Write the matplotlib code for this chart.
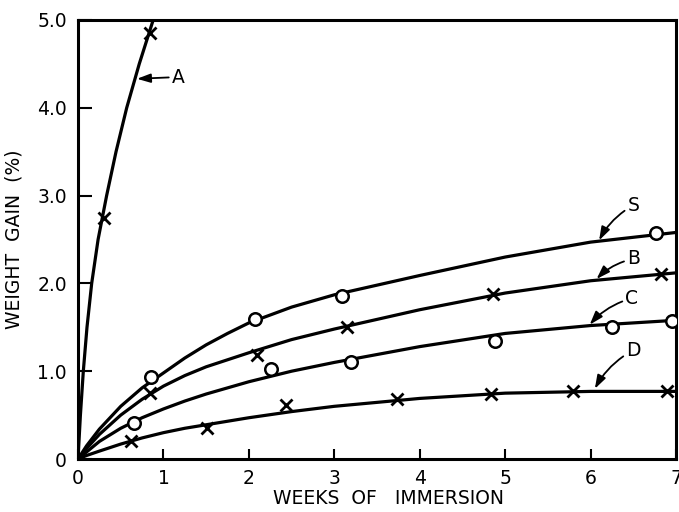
import matplotlib
matplotlib.use('Agg')
import matplotlib.pyplot as plt

# measured points (weeks, % weight gain)
a_x = [0.30, 0.84]
a_y = [2.75, 4.85]
s_x = [0.86, 2.07, 3.09, 6.76]
s_y = [0.93, 1.59, 1.86, 2.57]
b_x = [0.84, 2.09, 3.15, 4.86, 6.82]
b_y = [0.75, 1.18, 1.50, 1.88, 2.11]
c_x = [0.65, 2.26, 3.19, 4.88, 6.25, 6.95]
c_y = [0.41, 1.02, 1.11, 1.34, 1.50, 1.57]
d_x = [0.62, 1.51, 2.44, 3.73, 4.84, 5.80, 6.89]
d_y = [0.20, 0.35, 0.61, 0.68, 0.74, 0.77, 0.77]

# fitted curves
a_cy = [0, 0.5, 1.0, 1.5, 2.0, 2.5, 3.0, 3.5, 4.0, 4.5, 5.0]
a_cx = [0, 0.028, 0.062, 0.105, 0.16, 0.235, 0.335, 0.445, 0.57, 0.717, 0.88]
curve_x = [0, 0.1, 0.25, 0.5, 0.75, 1, 1.25, 1.5, 1.75, 2, 2.5, 3, 4, 5, 6, 7]
s_cy = [0, 0.15, 0.34, 0.60, 0.81, 0.98, 1.15, 1.30, 1.43, 1.55, 1.73, 1.87, 2.09, 2.30, 2.47, 2.58]
b_cy = [0, 0.12, 0.28, 0.50, 0.68, 0.83, 0.95, 1.05, 1.13, 1.21, 1.36, 1.48, 1.70, 1.89, 2.03, 2.12]
c_cy = [0, 0.08, 0.20, 0.35, 0.47, 0.57, 0.66, 0.74, 0.81, 0.88, 1.00, 1.10, 1.28, 1.43, 1.52, 1.58]
d_cy = [0, 0.04, 0.09, 0.17, 0.24, 0.30, 0.35, 0.39, 0.43, 0.47, 0.54, 0.60, 0.69, 0.75, 0.77, 0.77]

x_ticks = [0, 1, 2, 3, 4, 5, 6, 7]
y_ticks = [0, 1, 2, 3, 4, 5]
y_labels = ['0', '1.0', '2.0', '3.0', '4.0', '5.0']

plt.rcParams['font.family'] = ['DejaVu Sans']
fig = plt.figure(figsize=(6.79, 5.12), dpi=100)
ax = fig.add_axes([0.1149, 0.1035, 0.8807, 0.8575])

lw = 2.3
ax.plot(a_cx, a_cy, color='black', lw=lw, solid_capstyle='round', solid_joinstyle='round')
for ys in (s_cy, b_cy, c_cy, d_cy):
    ax.plot(curve_x, ys, color='black', lw=lw, solid_capstyle='round', solid_joinstyle='round')

cross = dict(marker='x', color='black', ms=8, mew=2, ls='none', zorder=5)
circ = dict(marker='o', mfc='white', mec='black', ms=9, mew=1.8, ls='none', zorder=5)
ax.plot(a_x, a_y, **cross)
ax.plot(s_x, s_y, **circ)
ax.plot(b_x, b_y, **cross)
ax.plot(c_x, c_y, **circ)
ax.plot(d_x, d_y, **cross)

ax.set_xlim(0, 7)
ax.set_ylim(0, 5)
ax.set_xticks(x_ticks)
ax.set_xticklabels([str(t) for t in x_ticks])
ax.set_yticks(y_ticks)
ax.set_yticklabels(y_labels)
ax.tick_params(axis='y', direction='in', length=10, width=1.5, pad=8, labelsize=13.5)
ax.tick_params(axis='x', direction='in', length=7, width=1.5, pad=7, labelsize=13.5)
for sp in ax.spines.values():
    sp.set_linewidth(2.2)
ax.set_xlabel('WEEKS  OF   IMMERSION', fontsize=13.5)
ax.xaxis.set_label_coords(0.52, -0.068)
ax.set_ylabel('WEIGHT  GAIN  (%)', fontsize=13.5)
ax.yaxis.set_label_coords(-0.092, 0.5)

# curve labels with arrows
arr = dict(arrowstyle='-|>,head_length=0.6,head_width=0.2', color='black', lw=1.3,
           shrinkA=0, shrinkB=0)
ax.annotate('A', xy=(0.69, 4.33), xytext=(1.17, 4.35), fontsize=13.5,
            va='center', ha='center',
            arrowprops=dict(arr, connectionstyle='arc3,rad=0'))
labels = [('S', (6.10, 2.49), (6.50, 2.89)),
          ('B', (6.07, 2.05), (6.50, 2.28)),
          ('C', (5.99, 1.53), (6.48, 1.83)),
          ('D', (6.05, 0.80), (6.50, 1.24))]
for txt, head, pos in labels:
    ax.annotate(txt, xy=head, xytext=pos, fontsize=13.5, va='center', ha='center',
                arrowprops=dict(arr, connectionstyle='arc3,rad=0.15'))

fig.savefig('out.png', dpi=100)
